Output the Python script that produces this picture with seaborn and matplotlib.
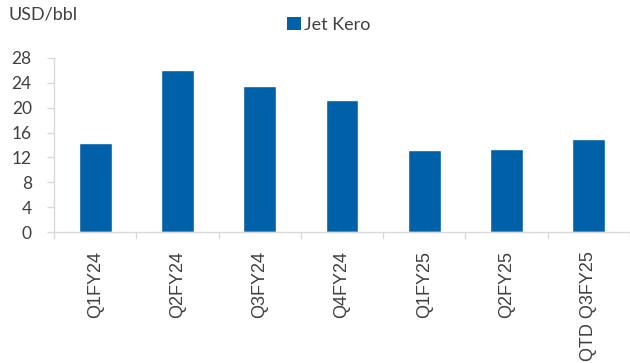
import matplotlib
matplotlib.use("Agg")
import matplotlib.pyplot as plt
from matplotlib.patches import Patch
from matplotlib.ticker import FixedLocator
import seaborn as sns
import pandas as pd

# Quarterly Jet Kero cracks (USD/bbl)
quarters = ["Q1FY24", "Q2FY24", "Q3FY24", "Q4FY24", "Q1FY25", "Q2FY25", "QTD Q3FY25"]
jet_kero = [14.25, 26.0, 23.4, 21.2, 13.2, 13.3, 14.9]
y_ticks = [0, 4, 8, 12, 16, 20, 24, 28]

bar_color = "#0061A8"
text_color = "#404040"
axis_color = "#D9D9D9"

sns.set_theme(style="white")
plt.rcParams["font.family"] = ["Lato", "DejaVu Sans"]

df = pd.DataFrame({"quarter": quarters, "value": jet_kero})

fig = plt.figure(figsize=(6.3, 3.63), dpi=100)
ax = fig.add_axes([54 / 630, 1 - 232.3 / 363, 1 - 54 / 630, (232.3 - 57.7) / 363])

sns.barplot(data=df, x="quarter", y="value", color=bar_color, width=0.4,
            saturation=1, ax=ax)

ax.set_xlim(-0.5, len(quarters) - 0.5)
ax.set_ylim(0, 28)
ax.set_yticks(y_ticks)
ax.set_xlabel("")
ax.set_ylabel("")

for side in ("top", "right"):
    ax.spines[side].set_visible(False)
for side in ("left", "bottom"):
    ax.spines[side].set_color(axis_color)
    ax.spines[side].set_linewidth(1.0)

# category separators on the x axis
ax.xaxis.set_minor_locator(FixedLocator([i - 0.5 for i in range(len(quarters) + 1)]))
ax.tick_params(axis="x", which="minor", length=5, width=1, color=axis_color, bottom=True)
ax.tick_params(axis="x", which="major", length=0, pad=13.5)
ax.tick_params(axis="y", which="major", length=5, width=1, color=axis_color,
               left=True, pad=11, labelsize=12.5, labelcolor=text_color)

for lbl in ax.get_xticklabels():
    lbl.set_rotation(90)
    lbl.set_family(["Liberation Sans", "DejaVu Sans"])
    lbl.set_fontsize(13)
    lbl.set_color(text_color)
    lbl.set_va("top")
    lbl.set_ha("center")

fig.text(8 / 630, 1 - 20 / 363, "USD/bbl", fontsize=13, color=text_color,
         ha="left", va="baseline")

handle = Patch(facecolor=bar_color, edgecolor="none", label="Jet Kero")
fig.legend(handles=[handle], loc="center", bbox_to_anchor=(329 / 630, 1 - 25 / 363),
           frameon=False, fontsize=13, handlelength=0.75, handleheight=0.75,
           handletextpad=0.2, labelcolor=text_color)

fig.savefig("out.png", dpi=100)
